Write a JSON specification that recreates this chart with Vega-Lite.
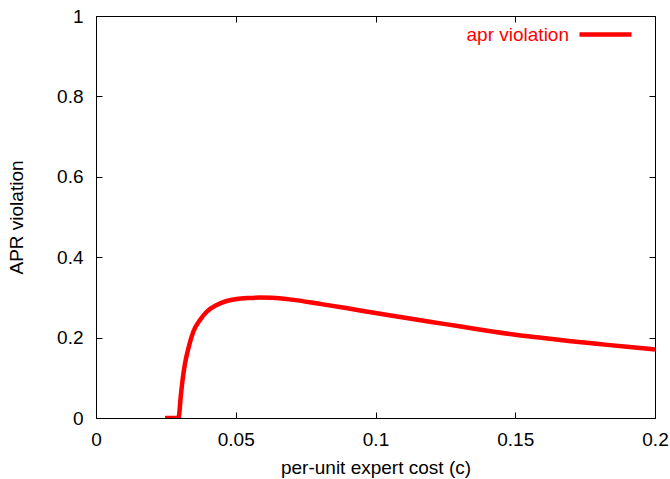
{
  "$schema": "https://vega.github.io/schema/vega-lite/v6.json",
  "width": 559,
  "height": 402,
  "autosize": "none",
  "padding": {"left": 96, "top": 16, "right": 15, "bottom": 61},
  "background": "white",
  "config": {
    "view": {"stroke": "black", "strokeWidth": 1},
    "font": "Liberation Sans",
    "axis": {
      "grid": false,
      "domainColor": "black",
      "tickColor": "black",
      "labelColor": "black",
      "titleColor": "black",
      "labelFont": "Liberation Sans",
      "titleFont": "Liberation Sans",
      "labelFontSize": 19,
      "titleFontSize": 19,
      "titleFontWeight": "normal",
      "tickSize": -6,
      "labelFlush": false,
      "labelOverlap": false
    }
  },
  "data": {
    "values": [
      {"c": 0.0247, "v": 0, "s": "apr violation"},
      {"c": 0.0295, "v": 0, "s": "apr violation"},
      {"c": 0.0297, "v": 0.006, "s": "apr violation"},
      {"c": 0.0303, "v": 0.052, "s": "apr violation"},
      {"c": 0.0310, "v": 0.096, "s": "apr violation"},
      {"c": 0.03184, "v": 0.1351, "s": "apr violation"},
      {"c": 0.03302, "v": 0.1724, "s": "apr violation"},
      {"c": 0.03481, "v": 0.2147, "s": "apr violation"},
      {"c": 0.03721, "v": 0.2438, "s": "apr violation"},
      {"c": 0.03961, "v": 0.2644, "s": "apr violation"},
      {"c": 0.04318, "v": 0.2811, "s": "apr violation"},
      {"c": 0.04676, "v": 0.291, "s": "apr violation"},
      {"c": 0.05034, "v": 0.296, "s": "apr violation"},
      {"c": 0.05449, "v": 0.2985, "s": "apr violation"},
      {"c": 0.0587, "v": 0.2995, "s": "apr violation"},
      {"c": 0.063, "v": 0.299, "s": "apr violation"},
      {"c": 0.07, "v": 0.2945, "s": "apr violation"},
      {"c": 0.08, "v": 0.284, "s": "apr violation"},
      {"c": 0.09, "v": 0.273, "s": "apr violation"},
      {"c": 0.1, "v": 0.261, "s": "apr violation"},
      {"c": 0.11, "v": 0.25, "s": "apr violation"},
      {"c": 0.12, "v": 0.239, "s": "apr violation"},
      {"c": 0.13, "v": 0.228, "s": "apr violation"},
      {"c": 0.14, "v": 0.217, "s": "apr violation"},
      {"c": 0.15, "v": 0.207, "s": "apr violation"},
      {"c": 0.16, "v": 0.199, "s": "apr violation"},
      {"c": 0.17, "v": 0.191, "s": "apr violation"},
      {"c": 0.18, "v": 0.184, "s": "apr violation"},
      {"c": 0.19, "v": 0.177, "s": "apr violation"},
      {"c": 0.2, "v": 0.1705, "s": "apr violation"}
    ]
  },
  "layer": [
    {
      "mark": {"type": "line", "strokeWidth": 4.5, "clip": true, "interpolate": "monotone"},
      "encoding": {
        "x": {
          "field": "c", "type": "quantitative",
          "scale": {"domain": [0, 0.2], "nice": false, "zero": false},
          "axis": {"orient": "bottom", "values": [0, 0.05, 0.1, 0.15, 0.2], "format": "~g", "labelPadding": 18, "title": "per-unit expert cost (c)", "titlePadding": 9}
        },
        "y": {
          "field": "v", "type": "quantitative",
          "scale": {"domain": [0, 1], "nice": false},
          "axis": {"orient": "left", "values": [0, 0.2, 0.4, 0.6, 0.8, 1], "format": "~g", "labelPadding": 19, "title": "APR violation", "titlePadding": 30}
        },
        "color": {
          "field": "s", "type": "nominal",
          "scale": {"range": ["#ff0000"]},
          "legend": {
            "title": null,
            "orient": "none",
            "legendX": 481,
            "legendY": -10,
            "padding": 0,
            "symbolType": "stroke",
            "symbolSize": 2704,
            "symbolStrokeWidth": 4.5,
            "symbolStrokeColor": "#ff0000",
            "labelColor": "#ff0000",
            "labelFont": "Liberation Sans",
            "labelFontSize": 19,
            "labelAlign": "right",
            "labelOffset": -65
          }
        }
      }
    },
    {
      "mark": {"type": "line", "opacity": 0},
      "encoding": {
        "x": {
          "field": "c", "type": "quantitative",
          "axis": {"orient": "top", "values": [0, 0.05, 0.1, 0.15, 0.2], "labels": false, "title": null, "domain": false}
        },
        "y": {
          "field": "v", "type": "quantitative",
          "axis": {"orient": "right", "values": [0, 0.2, 0.4, 0.6, 0.8, 1], "labels": false, "title": null, "domain": false}
        }
      }
    }
  ],
  "resolve": {"axis": {"x": "independent", "y": "independent"}}
}
